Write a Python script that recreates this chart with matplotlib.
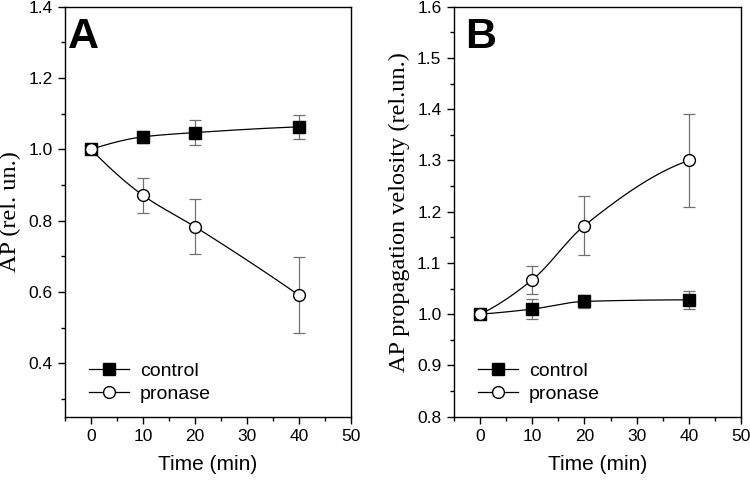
import numpy as np
import matplotlib
matplotlib.use("Agg")
import matplotlib.pyplot as plt
from matplotlib.ticker import MultipleLocator
from matplotlib.lines import Line2D

time_min = [0, 10, 20, 40]

a_control = [1.000, 1.035, 1.047, 1.063]
a_control_err = [0.008, 0.016, 0.035, 0.033]
a_pronase = [1.000, 0.871, 0.783, 0.591]
a_pronase_err = [0.008, 0.049, 0.078, 0.106]

b_control = [1.000, 1.010, 1.025, 1.028]
b_control_err = [0.005, 0.020, 0.013, 0.017]
b_pronase = [1.000, 1.067, 1.173, 1.300]
b_pronase_err = [0.005, 0.028, 0.058, 0.091]

series_labels = ["control", "pronase"]
x_label = "Time (min)"
a_ylabel = "AP (rel. un.)"
b_ylabel = "AP propagation velosity (rel.un.)"

plt.rcParams['font.family'] = ['Liberation Sans', 'DejaVu Sans']


def pchip_curve(x, y, n=200):
    x = np.asarray(x, float)
    y = np.asarray(y, float)
    h = np.diff(x)
    delta = np.diff(y) / h
    k = len(x)
    d = np.zeros(k)
    for i in range(1, k - 1):
        if delta[i - 1] * delta[i] > 0:
            w1 = 2 * h[i] + h[i - 1]
            w2 = h[i] + 2 * h[i - 1]
            d[i] = (w1 + w2) / (w1 / delta[i - 1] + w2 / delta[i])
    for idx, (h0, h1, d0, d1) in [(0, (h[0], h[1], delta[0], delta[1])),
                                  (k - 1, (h[-1], h[-2], delta[-1], delta[-2]))]:
        dd = ((2 * h0 + h1) * d0 - h0 * d1) / (h0 + h1)
        if np.sign(dd) != np.sign(d0):
            dd = 0
        elif np.sign(d0) != np.sign(d1) and abs(dd) > abs(3 * d0):
            dd = 3 * d0
        d[idx] = dd
    xs = np.linspace(x[0], x[-1], n)
    ys = np.empty_like(xs)
    for j, xv in enumerate(xs):
        i = min(np.searchsorted(x, xv, side='right') - 1, k - 2)
        t = (xv - x[i]) / h[i]
        h00 = 2 * t ** 3 - 3 * t ** 2 + 1
        h10 = t ** 3 - 2 * t ** 2 + t
        h01 = -2 * t ** 3 + 3 * t ** 2
        h11 = t ** 3 - t ** 2
        ys[j] = h00 * y[i] + h10 * h[i] * d[i] + h01 * y[i + 1] + h11 * h[i] * d[i + 1]
    return xs, ys


fig = plt.figure(figsize=(7.5, 4.82), dpi=100)
axA = fig.add_axes([0.0867, 0.1355, 0.381, 0.8505])
axB = fig.add_axes([0.6053, 0.1355, 0.3827, 0.8505])

err_color = '#707070'


def draw(ax, ctrl, ctrl_err, pron, pron_err):
    for vals, errs, mk, fc in [(ctrl, ctrl_err, 's', 'black'), (pron, pron_err, 'o', 'white')]:
        xs, ys = pchip_curve(time_min, vals)
        ax.plot(xs, ys, color='black', lw=0.9, zorder=2)
        ax.errorbar(time_min, vals, yerr=errs, fmt='none', ecolor=err_color,
                    elinewidth=0.9, capsize=4, capthick=0.9, zorder=1)
        ax.plot(time_min, vals, linestyle='none', marker=mk, markersize=8.5 if mk == 'o' else 8,
                markerfacecolor=fc, markeredgecolor='black', markeredgewidth=1.0, zorder=3)
    ax.set_xlim(-5, 50)
    ax.xaxis.set_major_locator(MultipleLocator(10))
    ax.xaxis.set_minor_locator(MultipleLocator(5))
    ax.tick_params(which='major', direction='out', length=5, width=1.0, labelsize=12.5,
                   top=False, right=False, pad=4)
    ax.tick_params(which='minor', direction='out', length=3, width=1.0, top=False, right=False)
    for s in ax.spines.values():
        s.set_linewidth(1.0)
    ax.set_xlabel(x_label, fontsize=15, labelpad=8)
    handles = [
        Line2D([], [], color='black', lw=0.9, marker='s', markersize=8,
               markerfacecolor='black', markeredgecolor='black'),
        Line2D([], [], color='black', lw=0.9, marker='o', markersize=8.5,
               markerfacecolor='white', markeredgecolor='black'),
    ]
    ax.legend(handles, series_labels, loc='lower left', bbox_to_anchor=(0.055, 0.015),
              frameon=False, fontsize=14, handlelength=2.1, handletextpad=0.55,
              labelspacing=0.25, borderaxespad=0)


draw(axA, a_control, a_control_err, a_pronase, a_pronase_err)
axA.set_ylim(0.25, 1.4)
axA.yaxis.set_major_locator(MultipleLocator(0.2))
axA.yaxis.set_minor_locator(MultipleLocator(0.1))
axA.set_ylabel(a_ylabel, fontsize=17.5, family=['Liberation Serif', 'DejaVu Serif'], labelpad=5)
axA.text(0.01, 0.975, "A", transform=axA.transAxes, fontsize=31, fontweight='bold',
         ha='left', va='top')

draw(axB, b_control, b_control_err, b_pronase, b_pronase_err)
axB.set_ylim(0.8, 1.6)
axB.yaxis.set_major_locator(MultipleLocator(0.1))
axB.yaxis.set_minor_locator(MultipleLocator(0.05))
axB.set_ylabel(b_ylabel, fontsize=17.5, family=['Liberation Serif', 'DejaVu Serif'], labelpad=5)
axB.text(0.04, 0.975, "B", transform=axB.transAxes, fontsize=31, fontweight='bold',
         ha='left', va='top')

fig.savefig("out.png", dpi=100)
